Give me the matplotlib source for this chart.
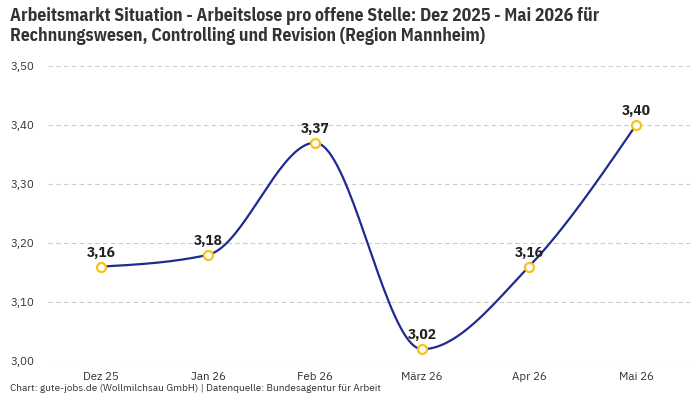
import numpy as np
import matplotlib.pyplot as plt

months = ['Dez 25', 'Jan 26', 'Feb 26', 'März 26', 'Apr 26', 'Mai 26']
values = [3.16, 3.18, 3.37, 3.02, 3.16, 3.40]
yticks = [3.00, 3.10, 3.20, 3.30, 3.40, 3.50]

plt.rcParams['font.family'] = ['IBM Plex Sans', 'Roboto', 'DejaVu Sans']
bold_font = ['IBM Plex Sans Condensed', 'Roboto', 'DejaVu Sans']

line_color = '#1f2b8e'
marker_color = '#f7c21b'
text_color = '#333333'


def monotone_curve(x, y, n=40):
    # d3 curveMonotoneX style cubic between points
    x = np.asarray(x, float)
    y = np.asarray(y, float)
    h = np.diff(x)
    s = np.diff(y) / h
    t = np.zeros(len(x))
    for i in range(1, len(x) - 1):
        p = (s[i - 1] * h[i] + s[i] * h[i - 1]) / (h[i - 1] + h[i])
        t[i] = (np.sign(s[i - 1]) + np.sign(s[i])) * min(abs(s[i - 1]), abs(s[i]), 0.5 * abs(p))
    t[0] = (3 * s[0] - t[1]) / 2
    t[-1] = (3 * s[-1] - t[-2]) / 2
    xs, ys = [], []
    u = np.linspace(0, 1, n)
    for i in range(len(x) - 1):
        dx = h[i] / 3
        P = [(x[i], y[i]), (x[i] + dx, y[i] + dx * t[i]),
             (x[i + 1] - dx, y[i + 1] - dx * t[i + 1]), (x[i + 1], y[i + 1])]
        bx = ((1 - u) ** 3 * P[0][0] + 3 * (1 - u) ** 2 * u * P[1][0]
              + 3 * (1 - u) * u ** 2 * P[2][0] + u ** 3 * P[3][0])
        by = ((1 - u) ** 3 * P[0][1] + 3 * (1 - u) ** 2 * u * P[1][1]
              + 3 * (1 - u) * u ** 2 * P[2][1] + u ** 3 * P[3][1])
        xs.extend(bx)
        ys.extend(by)
    return np.array(xs), np.array(ys)


fig = plt.figure(figsize=(7, 4), dpi=100)
ax = fig.add_axes([0.068, 0.0975, 0.917, 0.7375])

xpos = np.arange(len(months))
cx, cy = monotone_curve(xpos, values)
ax.plot(cx, cy, color=line_color, lw=1.6, zorder=3)
ax.scatter(xpos, values, s=42, facecolor='white', edgecolor=marker_color,
           linewidth=1.6, zorder=4)

for xi, v in zip(xpos, values):
    ax.annotate(f'{v:.2f}'.replace('.', ','), (xi, v), xytext=(0, 5),
                textcoords='offset points', ha='center', va='bottom',
                fontsize=11, fontweight='bold', family=bold_font, color='#222222')

ax.set_xlim(-0.5, len(months) - 0.5)
ax.set_ylim(3.0, 3.5)
ax.set_xticks(xpos)
ax.set_xticklabels(months)
ax.set_yticks(yticks)
ax.set_yticklabels([f'{t:.2f}'.replace('.', ',') for t in yticks], ha='left')
ax.tick_params(length=0, labelsize=8.3, colors=text_color)
ax.tick_params(axis='x', pad=8)
ax.tick_params(axis='y', pad=27)
ax.grid(axis='y', color='#cccccc', linestyle=(0, (4, 3)), lw=0.8)
for sp in ax.spines.values():
    sp.set_visible(False)
ax.set_axisbelow(True)

fig.text(0.014, 0.982, 'Arbeitsmarkt Situation - Arbeitslose pro offene Stelle: Dez 2025 - Mai 2026 für\n'
         'Rechnungswesen, Controlling und Revision (Region Mannheim)',
         ha='left', va='top', fontsize=12.8, fontweight='bold', family=bold_font,
         color=text_color, linespacing=1.1)
fig.text(0.014, 0.018, 'Chart: gute-jobs.de (Wollmilchsau GmbH) | Datenquelle: Bundesagentur für Arbeit',
         ha='left', va='bottom', fontsize=7.2, color=text_color)

fig.savefig('out.png', dpi=100)
